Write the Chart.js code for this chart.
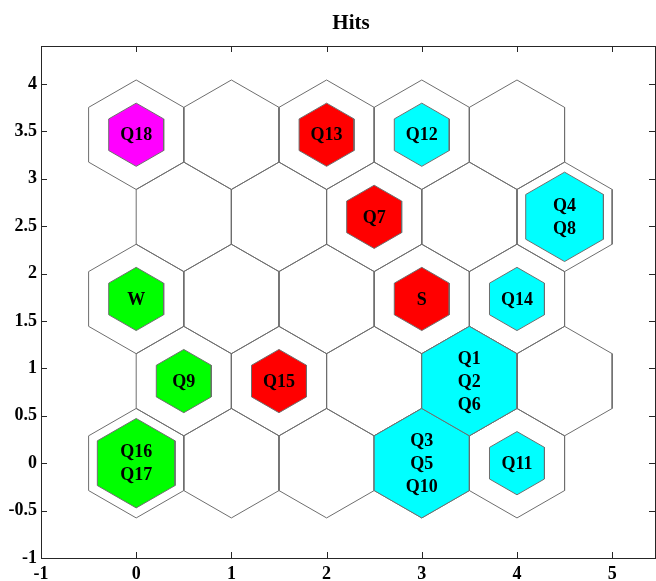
<!DOCTYPE html>
<html>
<head>
<meta charset="utf-8">
<script src="https://cdn.jsdelivr.net/npm/chart.js@4/dist/chart.umd.min.js"></script>
<style>
  html, body { margin: 0; padding: 0; background: #fff; }
  #wrap { width: 656px; height: 581px; }
</style>
</head>
<body>
<div id="wrap"><canvas id="hits" width="656" height="581"></canvas></div>
<script>
// SOM grid (hextop 5x5)
var gridCols = 5;
var gridRows = 5;

// neurons that got hits (index = row * gridCols + col) and what landed in them
var hitNeurons = [20, 22, 23, 17, 19, 10, 13, 14, 5, 6, 8, 0, 3, 4];
var hitLabels = [
    ['Q18'], ['Q13'], ['Q12'],
    ['Q7'], ['Q4', 'Q8'],
    ['W'], ['S'], ['Q14'],
    ['Q9'], ['Q15'], ['Q1', 'Q2', 'Q6'],
    ['Q16', 'Q17'], ['Q3', 'Q5', 'Q10'], ['Q11']
];
var hitColors = [
    '#ff00ff', '#ff0000', '#00ffff',
    '#ff0000', '#00ffff',
    '#00ff00', '#ff0000', '#00ffff',
    '#00ff00', '#ff0000', '#00ffff',
    '#00ff00', '#00ffff', '#00ffff'
];

var xTicks = [-1, 0, 1, 2, 3, 4, 5];
var yTicks = [-1, -0.5, 0, 0.5, 1, 1.5, 2, 2.5, 3, 3.5, 4];

// neuron position in the hex grid
function neuronPos(i) {
    var row = Math.floor(i / gridCols);
    var col = i % gridCols;
    return { x: col + (row % 2) * 0.5, y: row * Math.sqrt(3) / 2 };
}

function hexPoints(c, scale) {
    var r = scale / Math.sqrt(3);
    var pts = [];
    for (var k = 0; k <= 6; k++) {
        var a = Math.PI / 2 - k * Math.PI / 3;
        pts.push({ x: c.x + r * Math.cos(a), y: c.y + r * Math.sin(a) });
    }
    return pts;
}

var datasets = [];
for (var i = 0; i < gridCols * gridRows; i++) {
    datasets.push({
        data: hexPoints(neuronPos(i), 1),
        showLine: true,
        fill: false,
        borderColor: '#6e6e6e',
        borderWidth: 1,
        pointRadius: 0,
        tension: 0,
        order: 2
    });
}

var maxHits = Math.max.apply(null, hitLabels.map(function (l) { return l.length; }));
for (var j = 0; j < hitNeurons.length; j++) {
    datasets.push({
        data: hexPoints(neuronPos(hitNeurons[j]), Math.sqrt(hitLabels[j].length / maxHits)),
        showLine: true,
        fill: 'shape',
        backgroundColor: hitColors[j],
        borderColor: '#6e6e6e',
        borderWidth: 1,
        pointRadius: 0,
        tension: 0,
        order: 1
    });
}

var serif = "'Liberation Serif', 'Times New Roman', serif";

// labels in the hexes, title, inward ticks and box
var hitsPlugin = {
    id: 'hitsPlugin',
    afterDatasetsDraw: function (chart) {
        var ctx = chart.ctx;
        var xs = chart.scales.x, ys = chart.scales.y;
        var area = chart.chartArea;
        ctx.save();
        ctx.fillStyle = '#000';
        ctx.font = 'bold 18px ' + serif;
        ctx.textAlign = 'center';
        ctx.textBaseline = 'middle';
        for (var j = 0; j < hitNeurons.length; j++) {
            var p = neuronPos(hitNeurons[j]);
            var px = xs.getPixelForValue(p.x);
            var py = ys.getPixelForValue(p.y);
            var lines = hitLabels[j];
            var lh = 23;
            for (var k = 0; k < lines.length; k++) {
                ctx.fillText(lines[k], px, py + (k - (lines.length - 1) / 2) * lh + 1);
            }
        }

        // box
        ctx.strokeStyle = '#262626';
        ctx.lineWidth = 1;
        ctx.strokeRect(area.left + 0.5, area.top + 0.5, area.right - area.left, area.bottom - area.top);

        // ticks pointing inside
        var tl = 6;
        ctx.beginPath();
        xs.ticks.forEach(function (t) {
            var x = Math.round(xs.getPixelForValue(t.value)) + 0.5;
            ctx.moveTo(x, area.bottom); ctx.lineTo(x, area.bottom - tl);
            ctx.moveTo(x, area.top); ctx.lineTo(x, area.top + tl);
        });
        ys.ticks.forEach(function (t) {
            var y = Math.round(ys.getPixelForValue(t.value)) + 0.5;
            ctx.moveTo(area.left, y); ctx.lineTo(area.left + tl, y);
            ctx.moveTo(area.right, y); ctx.lineTo(area.right - tl, y);
        });
        ctx.stroke();

        // title
        ctx.font = 'bold 21px ' + serif;
        ctx.textBaseline = 'alphabetic';
        ctx.fillText('Hits', (area.left + area.right) / 2 + 3, 29);
        ctx.restore();
    }
};

function plainLabel(v) { return String(v); }

new Chart(document.getElementById('hits'), {
    type: 'scatter',
    data: { datasets: datasets },
    options: {
        responsive: false,
        animation: false,
        events: [],
        layout: { padding: { top: 46, right: 1, left: 0, bottom: 0 } },
        plugins: {
            legend: { display: false },
            tooltip: { enabled: false },
            title: { display: false }
        },
        scales: {
            x: {
                type: 'linear',
                min: -1,
                max: 5.45,
                afterFit: function (s) { s.height = 23; },
                afterBuildTicks: function (s) {
                    s.ticks = xTicks.map(function (v) { return { value: v }; });
                },
                grid: { display: false, drawTicks: false },
                border: { display: false },
                ticks: {
                    color: '#000',
                    padding: 6,
                    maxRotation: 0,
                    callback: plainLabel,
                    font: { family: serif, size: 18, weight: 'bold' }
                }
            },
            y: {
                type: 'linear',
                min: -1,
                max: 4.4,
                afterFit: function (s) { s.width = 41; },
                afterBuildTicks: function (s) {
                    s.ticks = yTicks.map(function (v) { return { value: v }; });
                },
                grid: { display: false, drawTicks: false },
                border: { display: false },
                ticks: {
                    color: '#000',
                    padding: 4,
                    callback: plainLabel,
                    font: { family: serif, size: 18, weight: 'bold' }
                }
            }
        }
    },
    plugins: [hitsPlugin]
});
</script>
</body>
</html>
